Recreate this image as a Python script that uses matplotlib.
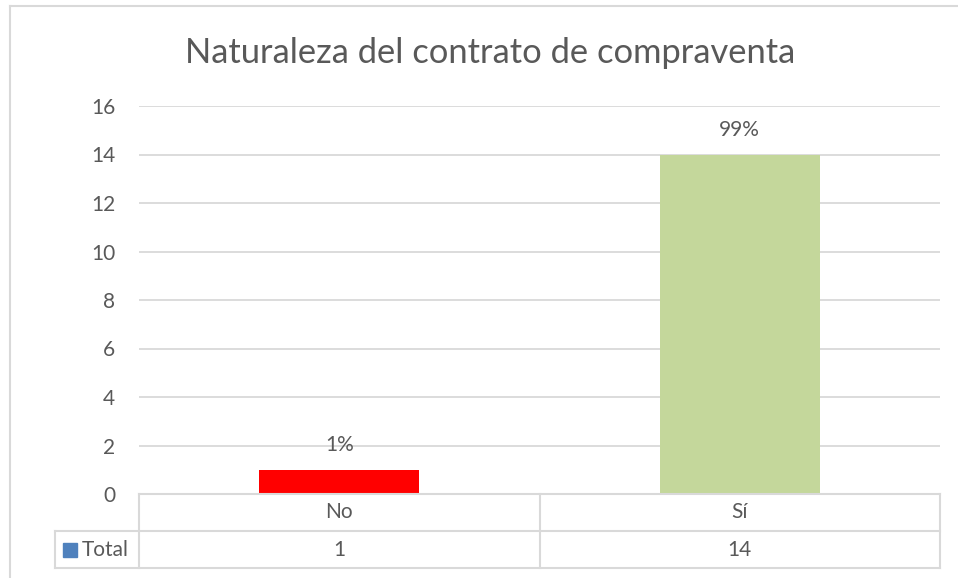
import matplotlib.pyplot as plt
from matplotlib.lines import Line2D

categories = ["No", "Sí"]
values = [1, 14]
pct_labels = ["1%", "99%"]
bar_colors = ["#FF0000", "#C4D79B"]
series_name = "Total"
title = "Naturaleza del contrato de compraventa"

W, H = 958, 578
txt = "#595959"
grid = "#D9D9D9"

plt.rcParams['font.family'] = ['Lato', 'DejaVu Sans']

fig = plt.figure(figsize=(W / 100, H / 100), dpi=100)

# plot area in pixels
x0, x1 = 139, 940
y_top, y_bot = 106, 494
ax = fig.add_axes([x0 / W, 1 - y_bot / H, (x1 - x0) / W, (y_bot - y_top) / H])

pos = range(len(categories))
ax.bar(pos, values, width=0.4, color=bar_colors, zorder=3)
for p, v, lab in zip(pos, values, pct_labels):
    ax.annotate(lab, (p, v), xytext=(0, 18), textcoords="offset points",
                ha="center", va="center", fontsize=15, color=txt, zorder=4)

ax.set_xlim(-0.5, len(categories) - 0.5)
ax.set_ylim(0, 16)
ax.set_yticks(range(0, 17, 2))
ax.yaxis.grid(True, color=grid, linewidth=1.3)
ax.set_axisbelow(True)
ax.tick_params(axis="y", length=0, pad=17, labelsize=15, labelcolor=txt)
ax.set_xticks([])
for s in ax.spines.values():
    s.set_visible(False)

fig.text(490 / W, 1 - 53 / H, title, ha="center", va="center", fontsize=24.8, color=txt)


def fx(px):
    return px / W


def fy(py):
    return 1 - py / H


def hline(y, xa, xb, c=grid, lw=1.5):
    fig.add_artist(Line2D([fx(xa), fx(xb)], [fy(y), fy(y)], color=c, lw=lw))


def vline(x, ya, yb, c=grid, lw=1.5):
    fig.add_artist(Line2D([fx(x), fx(x)], [fy(ya), fy(yb)], color=c, lw=lw))


# outer chart border
hline(6, 10, W)
vline(10, 6, H)

# data table
r0, r1, r2 = 494, 531, 568
hline(r0, x0, x1)
hline(r1, 55, x1)
hline(r2, 55, x1)
vline(55, r1, r2)
col_w = (x1 - x0) / len(categories)
for i in range(len(categories) + 1):
    vline(x0 + i * col_w, r0, r2)
for i, (c, v) in enumerate(zip(categories, values)):
    cx = x0 + (i + 0.5) * col_w
    fig.text(fx(cx), fy((r0 + r1) / 2), c, ha="center", va="center", fontsize=15, color=txt)
    fig.text(fx(cx), fy((r1 + r2) / 2), str(v), ha="center", va="center", fontsize=15, color=txt)

# legend key in the table
fig.patches.append(plt.Rectangle((fx(63), fy(557)), fx(14), 14 / H,
                                 transform=fig.transFigure, color="#4F81BD"))
fig.text(fx(82), fy((r1 + r2) / 2), series_name, ha="left", va="center", fontsize=15, color=txt)

fig.savefig("out.png", dpi=100)
